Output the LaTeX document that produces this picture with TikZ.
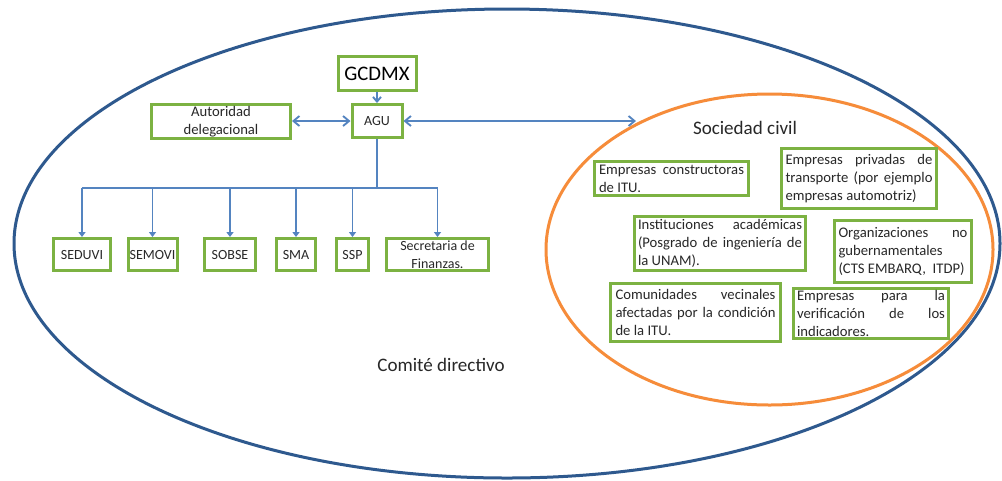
\documentclass[tikz,border=0pt]{standalone}
\usepackage{fontspec}
\setmainfont{Carlito}
\usetikzlibrary{arrows.meta}

\definecolor{ringblue}{RGB}{46,89,142}
\definecolor{ringorange}{RGB}{246,140,58}
\definecolor{boxgreen}{RGB}{124,178,66}
\definecolor{linkblue}{RGB}{84,132,192}
\definecolor{inkgray}{RGB}{40,40,40}

\begin{document}
\begin{tikzpicture}[x=0.75pt,y=-0.75pt,
  box/.style={draw=boxgreen, line width=2.25pt, fill=white, inner sep=0pt,
    text=inkgray, font=\fontsize{11}{13.5}\selectfont, align=center},
  smallbox/.style={box, font=\fontsize{10.5}{13.5}\selectfont, minimum height=24pt},
  parbox/.style={box, align=justify},
  link/.style={draw=linkblue, line width=1.4pt},
  twoway/.style={link, {Straight Barb[length=4.5pt,width=7.5pt]}-{Straight Barb[length=4.5pt,width=7.5pt]}},
  oneway/.style={link, -{Straight Barb[length=3.5pt,width=6pt]}},
  down/.style={link, -{Triangle[length=3.75pt,width=5.25pt]}},
  caption/.style={text=inkgray, font=\fontsize{14.3}{17}\selectfont},
]
\useasboundingbox (0,0) rectangle (1002,480);
\fill[white] (0,0) rectangle (1002,480);

% outer committee and civil-society rings
\draw[ringblue, line width=2.25pt] (507,243.5) ellipse [x radius=493, y radius=234.5];
\draw[ringorange, line width=2.25pt] (769.5,249.5) ellipse [x radius=223.5, y radius=155.5];

% government hierarchy
\node[box, minimum width=58.5pt, minimum height=25.5pt, font=\fontsize{15.5}{18}\selectfont, text=black] (gcdmx) at (377,73.5) {GCDMX};
\node[box, minimum width=37.5pt, minimum height=24.75pt, font=\fontsize{10.5}{13.5}\selectfont] (agu) at (377,121) {AGU};
\node[box, minimum width=104.25pt, minimum height=25.5pt] (auto) at (221,121.5) {Autoridad\\delegacional};

\node[smallbox, minimum width=42.75pt] (seduvi) at (82,254.5) {SEDUVI};
\node[smallbox, minimum width=36.75pt] (semovi) at (152.5,254.5) {SEMOVI};
\node[smallbox, minimum width=38.25pt] (sobse) at (230,254.5) {SOBSE};
\node[smallbox, minimum width=29.25pt] (sma) at (296,254.5) {SMA};
\node[smallbox, minimum width=24pt] (ssp) at (352.5,254.5) {SSP};
\node[smallbox, minimum width=76.5pt] (finanzas) at (437.5,254.5) {Secretaria de\\Finanzas.};

\coordinate (bus) at (377,188);
\coordinate (civil) at (636,121);

\draw[oneway] (gcdmx) -- (agu);
\draw[twoway] (auto.east |- agu) -- (agu);
\draw[twoway] (agu) -- (civil);
\draw[link, line width=1.8pt] (agu.south) -- (bus);
\draw[link] (seduvi.north |- bus) -- (finanzas.north |- bus);
\foreach \b in {seduvi,semovi,sobse,sma,ssp,finanzas}
  \draw[down] (\b.north |- bus) -- (\b.north);

% civil society members
\node[parbox, minimum width=115.5pt, minimum height=25.5pt, text width=108.75pt] (constr) at (671.5,178.5)
  {Empresas constructoras\linebreak de ITU.};
\node[parbox, minimum width=116.25pt, minimum height=45pt, text width=110.25pt] (transp) at (859,178.5)
  {Empresas privadas de\linebreak transporte (por ejemplo\linebreak empresas automotriz)};
\node[parbox, minimum width=128.25pt, minimum height=40.5pt, text width=123pt] (acad) at (720,243.5)
  {Instituciones académicas\linebreak (Posgrado de ingeniería de\linebreak la UNAM).};
\node[parbox, minimum width=102.75pt, minimum height=46.5pt, text width=96.75pt] (ong) at (903,251.5)
  {Organizaciones no\linebreak gubernamentales\linebreak (CTS EMBARQ,\ \ ITDP)};
\node[parbox, minimum width=127.5pt, minimum height=43.5pt, text width=120pt] (vecinos) at (695.5,312.5)
  {Comunidades vecinales\linebreak afectadas por la condición\linebreak de la ITU.};
\node[parbox, minimum width=116.25pt, minimum height=37.5pt, text width=111pt] (verif) at (871,313.5)
  {Empresas para la\linebreak verificación de los\linebreak indicadores.};

% ring captions
\node[caption] (soclabel) at (745,128) {Sociedad civil};
\node[caption] (comlabel) at (441,365) {Comité directivo};
\end{tikzpicture}
\end{document}
